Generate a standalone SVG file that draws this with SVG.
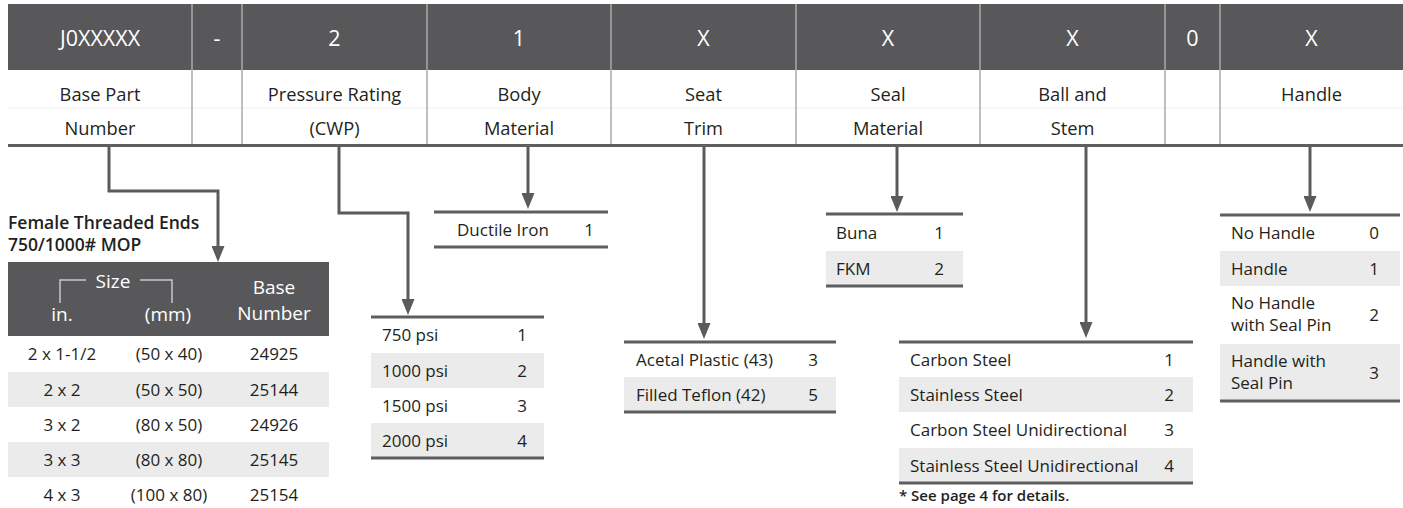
<svg xmlns="http://www.w3.org/2000/svg" width="1403" height="508" viewBox="0 0 1403 508">
<style>
text{font-family:"Open Sans","Noto Sans",sans-serif;fill:#231f20}
.h{fill:#fff;font-size:21.5px;text-anchor:middle}
.lbl{font-size:18.3px;text-anchor:middle}
.r{font-size:17px}
.m{text-anchor:middle}
.w{fill:#fff}
.hd{font-size:19px}
.b{font-weight:600}
.band{fill:#ebebeb}
.dark{fill:#58585a}
.rule{stroke:#5e5e5e;stroke-width:3;fill:none}
.div{stroke:#aaaaaa;stroke-width:1.5}
.conn{fill:none;stroke:#5b5b5b;stroke-width:3;marker-end:url(#arr)}
</style>
<defs>
<marker id="arr" markerUnits="userSpaceOnUse" markerWidth="16" markerHeight="13" refX="8" refY="6.5" orient="auto" viewBox="0 0 16 13">
<path d="M0,0 L16,6.5 L0,13 Z" fill="#5b5b5b"/>
</marker>
</defs>
<rect width="1403" height="508" fill="#fff"/>

<g id="header">
<rect class="dark" x="8" y="4" width="1395" height="66"/>
<line x1="8" y1="108" x2="1403" y2="108" stroke="#f0f0f0" stroke-width="1"/>
<g class="div">
<line x1="192" y1="4" x2="192" y2="144"/>
<line x1="242" y1="4" x2="242" y2="144"/>
<line x1="427" y1="4" x2="427" y2="144"/>
<line x1="611" y1="4" x2="611" y2="144"/>
<line x1="796" y1="4" x2="796" y2="144"/>
<line x1="980" y1="4" x2="980" y2="144"/>
<line x1="1165" y1="4" x2="1165" y2="144"/>
<line x1="1220" y1="4" x2="1220" y2="144"/>
</g>
<line class="rule" x1="8" y1="145.5" x2="1403" y2="145.5"/>
<g id="col-base"><text class="h" x="100" y="45.5">J0XXXXX</text><text class="lbl" x="100" y="101">Base Part</text><text class="lbl" x="100" y="135">Number</text></g>
<g id="col-dash"><text class="h" x="217" y="45.5">-</text></g>
<g id="col-pressure"><text class="h" x="334.5" y="45.5">2</text><text class="lbl" x="334.5" y="101">Pressure Rating</text><text class="lbl" x="334.5" y="135">(CWP)</text></g>
<g id="col-body"><text class="h" x="519" y="45.5">1</text><text class="lbl" x="519" y="101">Body</text><text class="lbl" x="519" y="135">Material</text></g>
<g id="col-seat"><text class="h" x="703.5" y="45.5">X</text><text class="lbl" x="703.5" y="101">Seat</text><text class="lbl" x="703.5" y="135">Trim</text></g>
<g id="col-seal"><text class="h" x="888" y="45.5">X</text><text class="lbl" x="888" y="101">Seal</text><text class="lbl" x="888" y="135">Material</text></g>
<g id="col-ball"><text class="h" x="1072.5" y="45.5">X</text><text class="lbl" x="1072.5" y="101">Ball and</text><text class="lbl" x="1072.5" y="135">Stem</text></g>
<g id="col-zero"><text class="h" x="1192.5" y="45.5">0</text></g>
<g id="col-handle"><text class="h" x="1311.5" y="45.5">X</text><text class="lbl" x="1311.5" y="101">Handle</text></g>
</g>

<g id="connectors">
<path class="conn" d="M109,147 V191 H218 V254"/>
<path class="conn" d="M339,147 V213 H408 V307"/>
<path class="conn" d="M528,147 V201"/>
<path class="conn" d="M704,147 V331"/>
<path class="conn" d="M897,147 V204"/>
<path class="conn" d="M1086,147 V330"/>
<path class="conn" d="M1310,147 V204"/>
</g>

<g id="base-table">
<text class="b" x="8" y="229" font-size="17.5">Female Threaded Ends</text>
<text class="b" x="8" y="251" font-size="17.5">750/1000# MOP</text>
<rect class="dark" x="8" y="262" width="321" height="74"/>
<path d="M60,303 V280 H86 M140,280 H172 V303" fill="none" stroke="#c8c8c8" stroke-width="1.5"/>
<text class="w hd m" x="113" y="288">Size</text>
<text class="w hd m" x="62" y="321">in.</text>
<text class="w hd m" x="168" y="321">(mm)</text>
<text class="w hd m" x="274" y="294">Base</text>
<text class="w hd m" x="274" y="320">Number</text>
<rect class="band" x="8" y="372" width="321" height="35"/>
<rect class="band" x="8" y="442" width="321" height="35"/>
<g class="r m">
<text x="62" y="360">2 x 1-1/2</text><text x="169" y="360">(50 x 40)</text><text x="274" y="360">24925</text>
<text x="62" y="395.5">2 x 2</text><text x="169" y="395.5">(50 x 50)</text><text x="274" y="395.5">25144</text>
<text x="62" y="430.5">3 x 2</text><text x="169" y="430.5">(80 x 50)</text><text x="274" y="430.5">24926</text>
<text x="62" y="465.5">3 x 3</text><text x="169" y="465.5">(80 x 80)</text><text x="274" y="465.5">25145</text>
<text x="62" y="500.5">4 x 3</text><text x="169" y="500.5">(100 x 80)</text><text x="274" y="500.5">25154</text>
</g>
</g>

<g id="pressure-table">
<rect class="band" x="371" y="353" width="173" height="35"/>
<rect class="band" x="371" y="423" width="173" height="35"/>
<line class="rule" x1="371" y1="317" x2="544" y2="317"/>
<line class="rule" x1="371" y1="458" x2="544" y2="458"/>
<text class="r" x="382" y="341">750 psi</text><text class="r m" x="522" y="341">1</text>
<text class="r" x="382" y="376.5">1000 psi</text><text class="r m" x="522" y="376.5">2</text>
<text class="r" x="382" y="411.5">1500 psi</text><text class="r m" x="522" y="411.5">3</text>
<text class="r" x="382" y="446.5">2000 psi</text><text class="r m" x="522" y="446.5">4</text>
</g>

<g id="body-table">
<line class="rule" x1="434" y1="212" x2="608" y2="212"/>
<line class="rule" x1="434" y1="247" x2="608" y2="247"/>
<text class="r" x="457" y="236">Ductile Iron</text><text class="r m" x="589" y="236">1</text>
</g>

<g id="seat-table">
<rect class="band" x="624" y="377" width="212" height="35"/>
<line class="rule" x1="624" y1="342" x2="836" y2="342"/>
<line class="rule" x1="624" y1="412" x2="836" y2="412"/>
<text class="r" x="636" y="365.5">Acetal Plastic (43)</text><text class="r m" x="813" y="365.5">3</text>
<text class="r" x="636" y="400.5">Filled Teflon (42)</text><text class="r m" x="813" y="400.5">5</text>
</g>

<g id="seal-table">
<rect class="band" x="826" y="251" width="137" height="35"/>
<line class="rule" x1="826" y1="214" x2="963" y2="214"/>
<line class="rule" x1="826" y1="286" x2="963" y2="286"/>
<text class="r" x="836" y="238.5">Buna</text><text class="r m" x="939" y="238.5">1</text>
<text class="r" x="836" y="274.5">FKM</text><text class="r m" x="939" y="274.5">2</text>
</g>

<g id="ball-table">
<rect class="band" x="899" y="377" width="294" height="35"/>
<rect class="band" x="899" y="448" width="294" height="35"/>
<line class="rule" x1="899" y1="342" x2="1193" y2="342"/>
<line class="rule" x1="899" y1="483" x2="1193" y2="483"/>
<text class="r" x="910" y="365.5">Carbon Steel</text><text class="r m" x="1169" y="365.5">1</text>
<text class="r" x="910" y="400.5">Stainless Steel</text><text class="r m" x="1169" y="400.5">2</text>
<text class="r" x="910" y="436">Carbon Steel Unidirectional</text><text class="r m" x="1169" y="436">3</text>
<text class="r" x="910" y="471.5">Stainless Steel Unidirectional</text><text class="r m" x="1169" y="471.5">4</text>
<text class="b" x="899" y="501" font-size="15">* See page 4 for details.</text>
</g>

<g id="handle-table">
<rect class="band" x="1220" y="251" width="180" height="35"/>
<rect class="band" x="1220" y="344" width="180" height="57"/>
<line class="rule" x1="1220" y1="215" x2="1400" y2="215"/>
<line class="rule" x1="1220" y1="401" x2="1400" y2="401"/>
<text class="r" x="1231" y="239">No Handle</text><text class="r m" x="1374" y="239">0</text>
<text class="r" x="1231" y="274.5">Handle</text><text class="r m" x="1374" y="274.5">1</text>
<text class="r" x="1231" y="309">No Handle</text><text class="r" x="1231" y="331">with Seal Pin</text><text class="r m" x="1374" y="321">2</text>
<text class="r" x="1231" y="367">Handle with</text><text class="r" x="1231" y="389">Seal Pin</text><text class="r m" x="1374" y="379">3</text>
</g>
</svg>
